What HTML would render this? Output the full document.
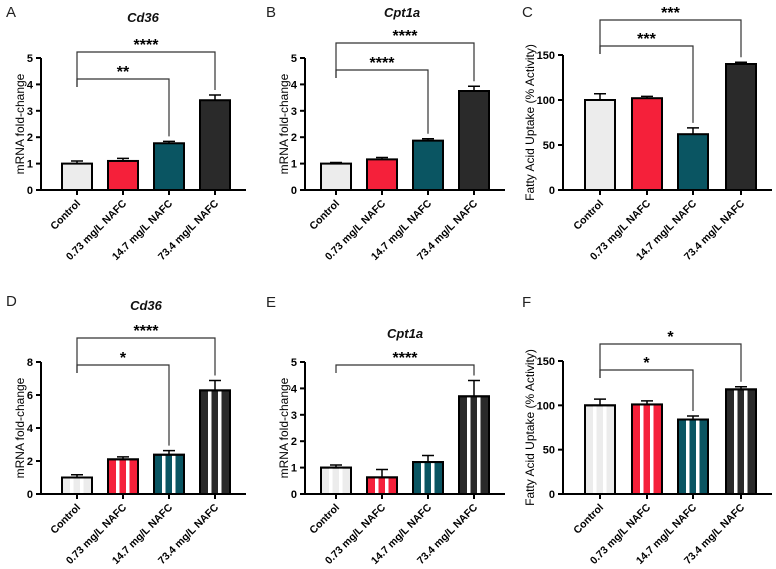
<!DOCTYPE html>
<html><head><meta charset="utf-8"><style>
body{margin:0;background:#fff;}
svg{display:block;font-family:"Liberation Sans",Arial,sans-serif;}
</style></head><body>
<svg id="fig" width="776" height="569"></svg>
<script>
const categories=["Control","0.73 mg/L NAFC","14.7 mg/L NAFC","73.4 mg/L NAFC"];
const colors=["#ececec","#f5203a","#0a5562","#2a2a2a"];
const valsA=[1.0,1.1,1.77,3.4], errA=[0.1,0.1,0.07,0.2];
const valsB=[1.0,1.16,1.87,3.75], errB=[0.04,0.07,0.07,0.18];
const valsC=[100,102,62,140], errC=[7,2,7,2];
const valsD=[1.0,2.1,2.38,6.28], errD=[0.17,0.15,0.25,0.6];
const valsE=[1.0,0.63,1.21,3.7], errE=[0.1,0.3,0.25,0.6];
const valsF=[100,101,84,118], errF=[7,4,4,3];
const ticks5=[0,1,2,3,4,5], ticks8=[0,2,4,6,8], ticks150=[0,50,100,150];
const sigA=[[2,"**"],[3,"****"]], sigB=[[2,"****"],[3,"****"]], sigC=[[2,"***"],[3,"***"]];
const sigD=[[2,"*"],[3,"****"]], sigE=[[3,"****"]], sigF=[[2,"*"],[3,"*"]];

const NS="http://www.w3.org/2000/svg";
const svg=document.getElementById('fig');
function mk(tag,at,parent,txt){const e=document.createElementNS(NS,tag);for(const k in at)e.setAttribute(k,at[k]);if(txt!==undefined)e.textContent=txt;(parent||svg).appendChild(e);return e;}

function panel(o){
  const g=mk('g',{});
  
  
  const ymax=o.ticks[o.ticks.length-1];
  const y=v=>o.y0-(o.y0-o.yTop)*v/ymax;
  const x=i=>o.xs[i];
  const L=mk('text',{x:o.lx,y:o.ly,'font-size':15,fill:'#222'},g,o.letter);
  
  
  if(o.title){const t=mk('text',{x:o.tx,y:o.ty,'font-size':13,'font-weight':'bold','font-style':'italic','text-anchor':'middle',fill:'#111'},g,o.title);
    
    }
  o.vals.forEach((v,i)=>{
    const bx=x(i)-15, by=y(v), bh=o.y0-by;
    const b=mk('rect',{x:bx,y:by,width:30,height:bh,fill:colors[i],stroke:'#000','stroke-width':2},g);
    
    
    if(o.striped){
      [8,18].forEach(s=>{const st=mk('rect',{x:bx+s,y:by+1,width:3.5,height:bh-1,fill:'#fff'},g);
        
        });
      mk('rect',{x:bx,y:by,width:30,height:bh,fill:'none',stroke:'#000','stroke-width':2},g);
    }
    const ey=y(v+o.err[i]);
    const e=mk('path',{d:`M${x(i)},${by}V${ey}M${x(i)-6},${ey}H${x(i)+6}`,stroke:'#000','stroke-width':1.5,fill:'none'},g);
    
    
  });
  const ax=mk('path',{d:`M${o.ax},${o.yTop}V${o.y0}H${o.axEnd}`,stroke:'#000','stroke-width':2,fill:'none'},g);
  
  
  o.ticks.forEach(t=>{
    mk('line',{x1:o.ax-5,x2:o.ax,y1:y(t),y2:y(t),stroke:'#000','stroke-width':2},g);
    const tl=mk('text',{x:o.ax-8,y:y(t)+4,'font-size':11,'font-weight':'bold','text-anchor':'end'},g,t);
    
    
  });
  categories.forEach((c,i)=>{
    mk('line',{x1:x(i),x2:x(i),y1:o.y0,y2:o.y0+5,stroke:'#000','stroke-width':2},g);
    const cl=mk('text',{x:x(i)+4,y:o.y0+14,'font-size':10.5,'font-weight':'bold','text-anchor':'end',transform:`rotate(-45 ${x(i)+4} ${o.y0+14})`},g,c);
    
    
  });
  const yt=mk('text',{x:0,y:0,'font-size':12,'text-anchor':'middle',transform:`translate(${o.ytx},${(o.y0+o.yTop)/2}) rotate(-90)`},g,o.ytitle);
  
  
  const inner=Math.max(...o.brY);
  o.sig.forEach((s,k)=>{
    const by=o.brY[k], j=s[0];
    const tip=y(o.vals[j]+o.err[j])-5;
    const br=mk('path',{d:`M${x(0)},${inner+8}V${by}H${x(j)}V${tip}`,stroke:'#333','stroke-width':1.2,fill:'none'},g);
    
    
    const st=mk('text',{x:(x(0)+x(j))/2,y:by-2,'font-size':16,'font-weight':'bold','text-anchor':'middle'},g,s[1]);
    
    
  });
}
const xsL=[77,123,169,215], xsM=[336,382,428,474], xsR=[600,647,693,741];
panel({letter:'A',lx:6,ly:17,title:'Cd36',tx:143,ty:22,vals:valsA,err:errA,ticks:ticks5,y0:190,yTop:58,ax:41,axEnd:246,xs:xsL,ytx:24,ytitle:'mRNA fold-change',sig:sigA,brY:[79,52],striped:false});
panel({letter:'B',lx:266,ly:17,title:'Cpt1a',tx:402,ty:17,vals:valsB,err:errB,ticks:ticks5,y0:190,yTop:58,ax:305,axEnd:505,xs:xsM,ytx:288,ytitle:'mRNA fold-change',sig:sigB,brY:[70,43],striped:false});
panel({letter:'C',lx:522,ly:17,vals:valsC,err:errC,ticks:ticks150,y0:190,yTop:55,ax:563,axEnd:772,xs:xsR,ytx:534,ytitle:'Fatty Acid Uptake (% Activity)',sig:sigC,brY:[46,20],striped:false});
panel({letter:'D',lx:6,ly:306,title:'Cd36',tx:146,ty:310,vals:valsD,err:errD,ticks:ticks8,y0:494,yTop:362,ax:41,axEnd:246,xs:xsL,ytx:24,ytitle:'mRNA fold-change',sig:sigD,brY:[365,338],striped:true});
panel({letter:'E',lx:266,ly:307,title:'Cpt1a',tx:405,ty:338,vals:valsE,err:errE,ticks:ticks5,y0:494,yTop:362,ax:305,axEnd:505,xs:xsM,ytx:288,ytitle:'mRNA fold-change',sig:sigE,brY:[365],striped:true});
panel({letter:'F',lx:522,ly:307,vals:valsF,err:errF,ticks:ticks150,y0:494,yTop:361,ax:563,axEnd:772,xs:xsR,ytx:534,ytitle:'Fatty Acid Uptake (% Activity)',sig:sigF,brY:[370,344],striped:true});
</script>
</body></html>
